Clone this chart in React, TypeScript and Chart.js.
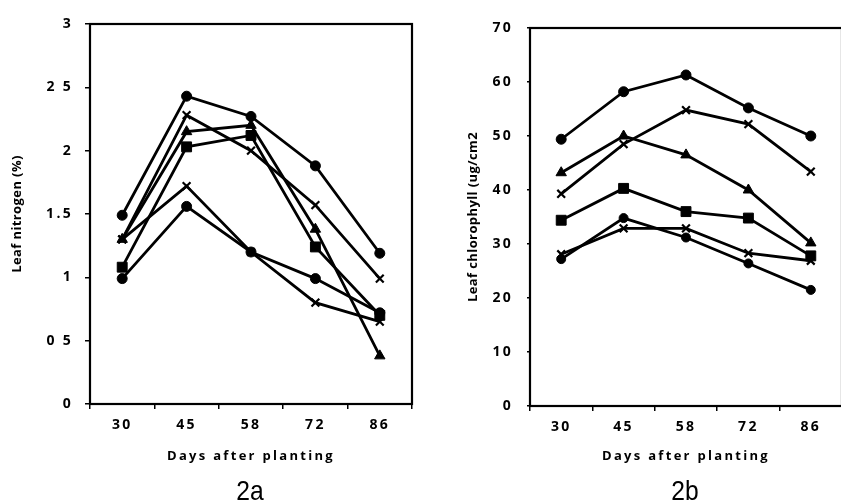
import React, { useEffect, useRef } from "react";
import { Chart, registerables } from "chart.js";

Chart.register(...registerables);

// ---- data ----
const days = ["30", "45", "58", "72", "86"];

const nitrogenCircleTop = [1.49, 2.43, 2.27, 1.88, 1.19];
const nitrogenCrossTop = [1.3, 2.28, 2.0, 1.57, 0.99];
const nitrogenTriangle = [1.3, 2.15, 2.2, 1.38, 0.38];
const nitrogenSquare = [1.08, 2.03, 2.12, 1.24, 0.7];
const nitrogenCrossLow = [1.3, 1.72, 1.2, 0.8, 0.65];
const nitrogenCircleLow = [0.99, 1.56, 1.2, 0.99, 0.72];
const nitrogenTickLabels = ["0", "0 5", "1", "1.5", "2", "2 5", "3"];

const chlCircleTop = [49.4, 58.2, 61.3, 55.2, 50.0];
const chlCrossTop = [39.3, 48.5, 54.8, 52.2, 43.4];
const chlTriangle = [43.2, 50.0, 46.5, 40.0, 30.2];
const chlSquare = [34.4, 40.3, 36.0, 34.8, 27.8];
const chlCrossLow = [28.1, 32.9, 32.9, 28.3, 26.9];
const chlCircleLow = [27.2, 34.8, 31.2, 26.4, 21.5];
const chlTickLabels = ["0", "10", "20", "30", "40", "50", "60", "70"];

const xTitle = "Days after planting";
const nitrogenYTitle = "Leaf nitrogen (%)";
const chlYTitle = "Leaf chlorophyll (ug/cm2";

const FONT = '"Open Sans", "DejaVu Sans", sans-serif';

function dataset(data: number[], style: string, radius: number) {
  const isCross = style.startsWith("cross");
  return {
    data,
    borderColor: "#000",
    backgroundColor: "#000",
    borderWidth: 2.8,
    pointStyle: style,
    pointRadius: radius,
    pointBorderWidth: isCross ? 2.2 : 1,
    pointBackgroundColor: "#000",
    pointBorderColor: "#000",
    tension: 0,
    fill: false,
  };
}

const framePlugin = {
  id: "frame",
  beforeDraw(chart: any) {
    const ctx = chart.ctx as any;
    ctx.letterSpacing = "2.3px";
  },
  afterDraw(chart: any, _args: any, opts: any) {
    const ctx = chart.ctx as any;
    const a = chart.chartArea;
    ctx.save();
    ctx.letterSpacing = "0px";
    ctx.strokeStyle = "#000";
    ctx.lineWidth = 2.2;
    ctx.strokeRect(a.left, a.top, a.right - a.left, a.bottom - a.top);
    if (opts && opts.text) {
      ctx.letterSpacing = "0.4px";
      ctx.font = `bold 13px ${FONT}`;
      ctx.fillStyle = "#000";
      ctx.textAlign = "center";
      ctx.textBaseline = "middle";
      ctx.translate(opts.x, (a.top + a.bottom) / 2);
      ctx.rotate(-Math.PI / 2);
      ctx.fillText(opts.text, 0, 0);
    }
    ctx.restore();
    ctx.letterSpacing = "0px";
  },
};

function makeConfig(
  series: any[],
  yMax: number,
  yStep: number,
  tickLabels: string[],
  yWidth: number,
  xHeight: number,
  padding: any,
  yTitleX: number,
  yTitle: string,
  yTickLen: number
) {
  return {
    type: "line",
    data: { labels: days, datasets: series },
    plugins: [framePlugin],
    options: {
      animation: false,
      responsive: false,
      events: [],
      layout: { padding },
      plugins: {
        legend: { display: false },
        tooltip: { enabled: false },
        frame: { text: yTitle, x: yTitleX },
      },
      scales: {
        x: {
          type: "category",
          offset: true,
          grid: {
            offset: true,
            drawOnChartArea: false,
            drawTicks: true,
            tickLength: 5,
            color: "#000",
            lineWidth: 1.5,
          },
          border: { display: false },
          ticks: {
            color: "#000",
            font: { family: FONT, size: 14, weight: "bold" },
            padding: 8,
            maxRotation: 0,
          },
          title: {
            display: true,
            text: xTitle,
            color: "#000",
            font: { family: FONT, size: 13, weight: "bold" },
            padding: { top: 37, bottom: 37 },
          },
          afterFit: (s: any) => {
            s.height = xHeight;
          },
        },
        y: {
          min: 0,
          max: yMax,
          grid: {
            drawOnChartArea: false,
            drawTicks: true,
            tickLength: yTickLen,
            color: "#000",
            lineWidth: 1.5,
          },
          border: { display: false },
          ticks: {
            stepSize: yStep,
            color: "#000",
            font: { family: FONT, size: 14, weight: "bold" },
            padding: 17 - yTickLen,
            callback: (_v: any, i: number) => tickLabels[i],
          },
          afterFit: (s: any) => {
            s.width = yWidth;
          },
        },
      },
    },
  };
}

export default function App() {
  const leftRef = useRef<HTMLCanvasElement>(null);
  const rightRef = useRef<HTMLCanvasElement>(null);

  useEffect(() => {
    const left = new Chart(
      leftRef.current as HTMLCanvasElement,
      makeConfig(
        [
          dataset(nitrogenCircleTop, "circle", 5),
          dataset(nitrogenCrossTop, "crossRot", 5.5),
          dataset(nitrogenTriangle, "triangle", 6),
          dataset(nitrogenSquare, "rect", 7),
          dataset(nitrogenCrossLow, "crossRot", 5.5),
          dataset(nitrogenCircleLow, "circle", 5),
        ],
        3,
        0.5,
        nitrogenTickLabels,
        90,
        97,
        { top: 24, right: 2, left: 0, bottom: 0 },
        17,
        nitrogenYTitle,
        5
      ) as any
    );
    const right = new Chart(
      rightRef.current as HTMLCanvasElement,
      makeConfig(
        [
          dataset(chlCircleTop, "circle", 5),
          dataset(chlCrossTop, "crossRot", 5.5),
          dataset(chlTriangle, "triangle", 6),
          dataset(chlSquare, "rect", 7),
          dataset(chlCrossLow, "crossRot", 5.5),
          dataset(chlCircleLow, "circle", 4.5),
        ],
        70,
        10,
        chlTickLabels,
        110,
        95,
        { top: 28, right: 1, left: 0, bottom: 0 },
        53,
        chlYTitle,
        3
      ) as any
    );
    return () => {
      left.destroy();
      right.destroy();
    };
  }, []);

  const capStyle: React.CSSProperties = {
    position: "absolute",
    top: 477,
    width: 100,
    textAlign: "center",
    fontFamily: '"Liberation Sans", Arial, sans-serif',
    fontSize: 28,
    lineHeight: "27px",
    color: "#000",
    transform: "scaleX(0.88)",
  };

  return (
    <div
      style={{
        position: "fixed",
        left: 0,
        top: 0,
        width: 841,
        height: 501,
        overflow: "hidden",
        background: "#fff",
      }}
    >
      <canvas
        ref={leftRef}
        width={420}
        height={501}
        style={{ position: "absolute", left: 0, top: 0, width: 420, height: 501 }}
      />
      <canvas
        ref={rightRef}
        width={430}
        height={501}
        style={{ position: "absolute", left: 420, top: 0, width: 430, height: 501 }}
      />
      <div style={{ ...capStyle, left: 200 }}>2a</div>
      <div style={{ ...capStyle, left: 635 }}>2b</div>
    </div>
  );
}
